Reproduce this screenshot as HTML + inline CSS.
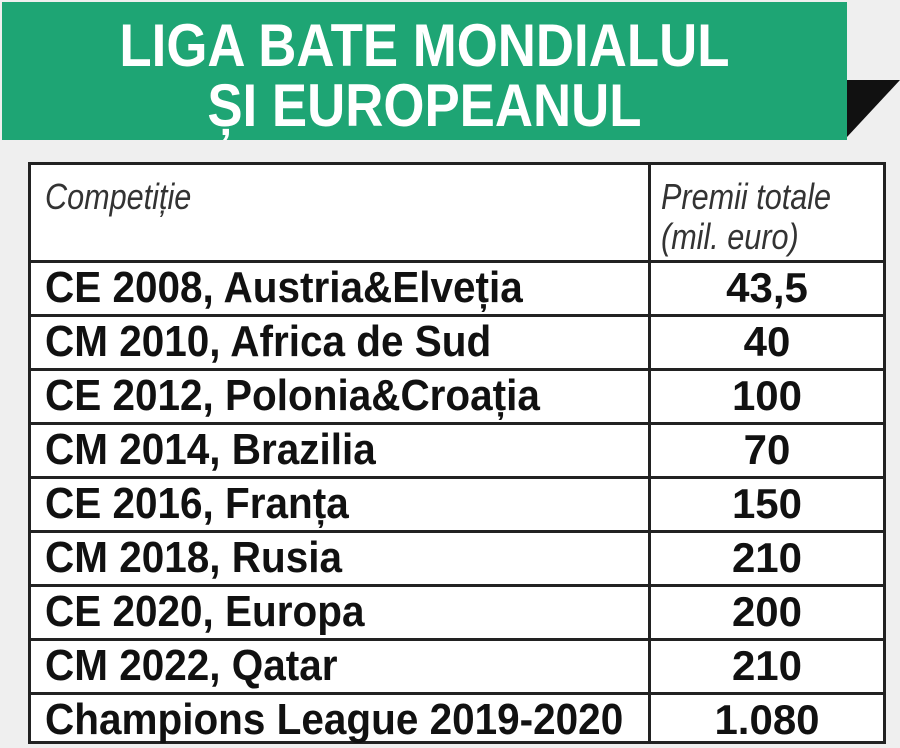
<!DOCTYPE html>
<html><head><meta charset="utf-8"><style>
body{margin:0;width:900px;height:748px;background:#efefef;position:relative;overflow:hidden;font-family:"Liberation Sans",sans-serif}
.banner{position:absolute;left:2px;top:2px;width:845px;height:138px;background:#1ea574}
.tri{position:absolute;left:0;top:0}
.title{position:absolute;left:0;width:845px;text-align:center;color:#fff;font-weight:bold;font-size:60px;line-height:60px;transform:scaleX(0.88);transform-origin:422px 0}
.tbl{position:absolute;left:28px;top:162px;width:852px;height:576px;border:3px solid #222;background:#fff}
.vline{position:absolute;left:617px;top:0;width:3px;height:576px;background:#222}
.hline{position:absolute;left:0;width:852px;height:3px;background:#222}
.cell{position:absolute;font-weight:bold;font-size:44px;line-height:54px;color:#111;white-space:nowrap;transform:scaleX(0.92);transform-origin:0 0}
.val{position:absolute;left:620px;width:232px;text-align:center;font-weight:bold;font-size:42px;line-height:54px;color:#111}
.hdr{position:absolute;font-style:italic;font-size:36px;line-height:40px;color:#333;white-space:nowrap;transform:scaleX(0.85);transform-origin:0 0}
</style></head><body>
<div class="banner">
<div class="title" style="top:14px">LIGA BATE MONDIALUL</div>
<div class="title" style="top:74px">ȘI EUROPEANUL</div>
</div>
<svg class="tri" width="900" height="748"><polygon points="847,80 900,80 847,137" fill="#111"/></svg>
<div class="tbl">
<div class="vline"></div>
<div class="hdr" style="left:14px;top:12px">Competiție</div>
<div class="hdr" style="left:630px;top:12px">Premii totale<br>(mil. euro)</div>
<div id="rows"></div>
</div>
<script>
const competitions=["CE 2008, Austria&Elveția","CM 2010, Africa de Sud","CE 2012, Polonia&Croația","CM 2014, Brazilia","CE 2016, Franța","CM 2018, Rusia","CE 2020, Europa","CM 2022, Qatar","Champions League 2019-2020"];
const prizes=["43,5","40","100","70","150","210","200","210","1.080"];
const rows=document.getElementById('rows');
const top0=95,rowH=54;
competitions.forEach((c,i)=>{
  const y=top0+i*rowH;
  const l=document.createElement('div');l.className='hline';l.style.top=y+'px';
  
  
  rows.appendChild(l);
  const n=document.createElement('div');n.className='cell';n.style.left='14px';n.style.top=(y+1)+'px';n.textContent=c;
  
  
  rows.appendChild(n);
  const v=document.createElement('div');v.className='val';v.style.top=(y+1)+'px';v.textContent=prizes[i];
  
  
  rows.appendChild(v);
});
</script>
</body></html>
